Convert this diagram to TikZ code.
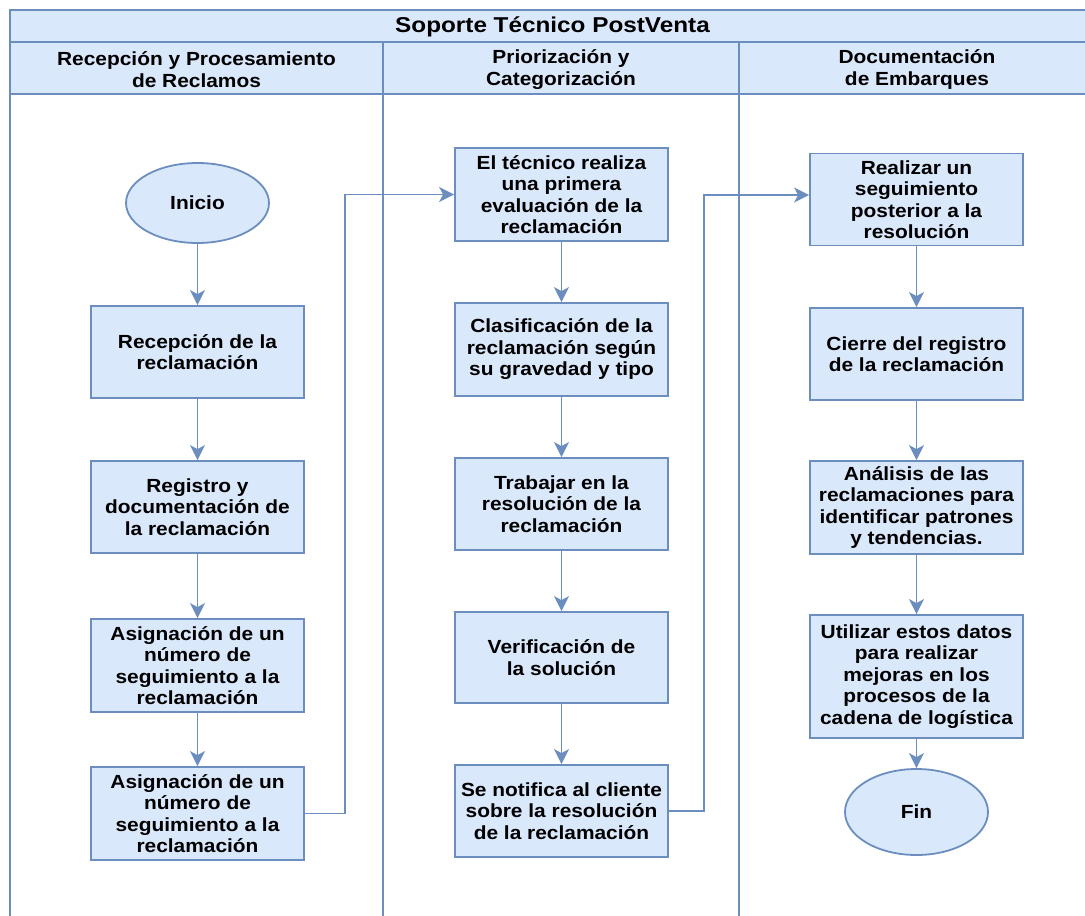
\documentclass[tikz,border=0pt]{standalone}
\usepackage{fontspec}
\usetikzlibrary{arrows.meta,shapes.geometric}
\newfontfamily\nodefont{Liberation Sans Bold}[FakeStretch=1.1]
\newfontfamily\titlefont{Liberation Sans Bold}[FakeStretch=1.13]
\definecolor{laneline}{HTML}{6C8EBF}
\definecolor{lanefill}{HTML}{DAE8FC}
\tikzset{
  procbox/.style={draw=laneline, fill=lanefill, line width=1.8pt, rectangle,
    minimum width=213pt, minimum height=92pt, inner sep=2pt, align=center,
    font=\nodefont\fontsize{19}{21.5}\selectfont},
  terminal/.style={draw=laneline, fill=lanefill, line width=1.8pt, ellipse,
    minimum width=143pt, minimum height=80pt, inner sep=0pt, align=center,
    font=\nodefont\fontsize{19}{21.5}\selectfont},
  lanetitle/.style={align=center, inner sep=0pt, font=\nodefont\fontsize{19}{22}\selectfont},
  flow/.style={draw=laneline, line width=1.9pt,
    -{Stealth[length=15pt,width=15pt,inset=4pt]}},
  frame/.style={draw=laneline, line width=1.9pt}
}
\begin{document}
\begin{tikzpicture}[x=1pt,y=-1pt]
\useasboundingbox (0,0) rectangle (1085,916);
\clip (0,0) rectangle (1085,916);
\fill[white] (0,0) rectangle (1085,916);

% pool header bands
\fill[lanefill] (10,10) rectangle (1095,94);
\draw[frame] (10,940) -- (10,10) -- (1095,10) -- (1095,940);
\draw[frame] (10,42) -- (1095,42);
\draw[frame] (10,94) -- (1095,94);
\draw[frame] (383,42) -- (383,940);
\draw[frame] (739,42) -- (739,940);

\node[inner sep=0pt, font=\titlefont\fontsize{21.5}{24}\selectfont] (pool) at (552.5,27) {Soporte Técnico PostVenta};
\node[lanetitle] (lane1) at (196.5,69.5) {Recepción y Procesamiento\\de Reclamos};
\node[lanetitle] (lane2) at (561,69.5) {Priorización y\\Categorización};
\node[lanetitle] (lane3) at (917,69.5) {Documentación\\de Embarques};

% lane 1
\node[terminal] (inicio) at (197.5,203) {Inicio};
\node[procbox] (rec) at (197.5,352) {Recepción de la\\reclamación};
\node[procbox] (reg) at (197.5,507) {Registro y\\documentación de\\la reclamación};
\node[procbox, minimum height=93pt] (asig1) at (197.5,665.5) {Asignación de un\\número de\\seguimiento a la\\reclamación};
\node[procbox, minimum height=93pt] (asig2) at (197.5,813.5) {Asignación de un\\número de\\seguimiento a la\\reclamación};

% lane 2
\node[procbox, minimum height=93pt] (eval) at (561.5,194.5) {El técnico realiza\\una primera\\evaluación de la\\reclamación};
\node[procbox, minimum height=93pt] (clas) at (561.5,349.5) {Clasificación de la\\reclamación según\\su gravedad y tipo};
\node[procbox] (trab) at (561.5,504) {Trabajar en la\\resolución de la\\reclamación};
\node[procbox, minimum height=91pt] (verif) at (561.5,657.5) {Verificación de\\la solución};
\node[procbox] (notif) at (561.5,811) {Se notifica al cliente\\sobre la resolución\\de la reclamación};

% lane 3
\node[procbox] (seg) at (916.5,199.5) {Realizar un\\seguimiento\\posterior a la\\resolución};
\node[procbox] (cierre) at (916.5,354) {Cierre del registro\\de la reclamación};
\node[procbox, minimum height=93pt] (anal) at (916.5,507.5) {Análisis de las\\reclamaciones para\\identificar patrones\\y tendencias.};
\node[procbox, minimum height=123pt] (util) at (916.5,676.5) {Utilizar estos datos\\para realizar\\mejoras en los\\procesos de la\\cadena de logística};
\node[terminal, minimum height=86pt] (fin) at (916.5,812) {Fin};

% connectors
\draw[flow] (inicio) -- (rec);
\draw[flow] (rec) -- (reg);
\draw[flow] (reg) -- (asig1);
\draw[flow] (asig1) -- (asig2);
\draw[flow] (asig2.east) -- ++(40,0) |- (eval.west);

\draw[flow] (eval) -- (clas);
\draw[flow] (clas) -- (trab);
\draw[flow] (trab) -- (verif);
\draw[flow] (verif) -- (notif);
\draw[flow] (notif.east) -- ++(35,0) |- ([yshift=4.5pt]seg.west);

\draw[flow] (seg) -- (cierre);
\draw[flow] (cierre) -- (anal);
\draw[flow] (anal) -- (util);
\draw[flow] (util) -- (fin);
\end{tikzpicture}
\end{document}
